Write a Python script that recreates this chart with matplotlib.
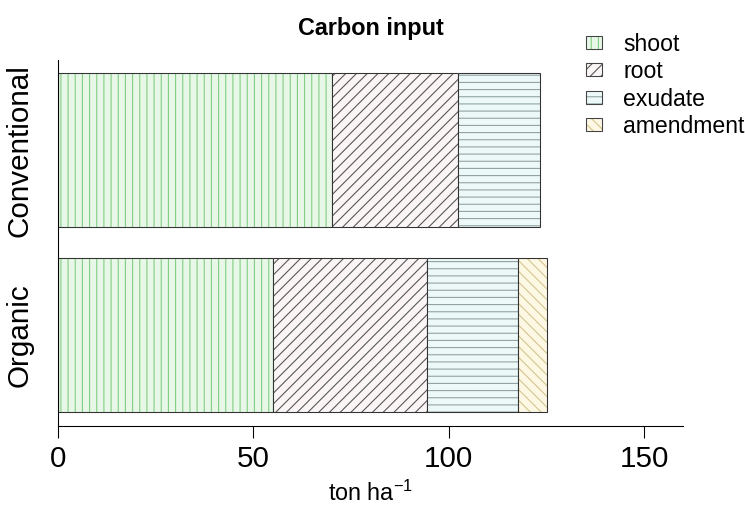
import numpy as np
import matplotlib.pyplot as plt
from matplotlib.patches import Patch
from matplotlib.legend_handler import HandlerTuple

plt.rcParams['font.family'] = ['Liberation Sans', 'DejaVu Sans']
plt.rcParams['mathtext.fontset'] = 'custom'
plt.rcParams['mathtext.rm'] = 'Liberation Sans'
plt.rcParams['mathtext.it'] = 'Liberation Sans:italic'
plt.rcParams['hatch.linewidth'] = 0.6

# Carbon input per system (ton/ha), bottom to top
systems = ['Organic', 'Conventional']
shoot = [55.1, 70.0]
root = [39.3, 32.3]
exudate = [23.3, 21.0]
amendment = [7.4, 0.0]

components = ['shoot', 'root', 'exudate', 'amendment']
fills = ['#e8f8e8', '#fbf5f5', '#edf9f9', '#fdf8e4']
hatch_cols = ['#80cc80', '#555555', '#90a0a0', '#d4c48c']
hatches = ['|||', '////', '---', '\\\\\\\\']
edge = '#333333'

DPI = 129.6
fig = plt.figure(figsize=(745.3 / DPI, 505.3 / DPI), dpi=DPI)
ax = fig.add_axes([58 / 745, 79 / 505, 625 / 745, 366 / 505])

ypos = np.array([0.7, 1.9])
left = np.zeros(2)
handles = []
for name, vals, fc, hc, h in zip(components, [shoot, root, exudate, amendment],
                                 fills, hatch_cols, hatches):
    vals = np.array(vals)
    keep = vals > 0
    ax.barh(ypos[keep], vals[keep], height=1, left=left[keep], color=fc,
            edgecolor=hc, hatch=h, linewidth=0)
    ax.barh(ypos[keep], vals[keep], height=1, left=left[keep], fill=False,
            edgecolor=edge, linewidth=0.6)
    left += vals
    handles.append((Patch(facecolor=fc, edgecolor=hc, hatch=h, linewidth=0),
                    Patch(fill=False, edgecolor='#444444', linewidth=0.6)))

ax.set_xlim(0, 160)
ax.set_ylim(0.112, 2.488)
ax.set_xticks([0, 50, 100, 150])
ax.set_yticks(ypos)
ax.set_yticklabels(systems, rotation=90, va='center')
ax.tick_params(axis='x', length=6.7, width=0.6, pad=3.9, labelsize=16.5)
ax.tick_params(axis='y', length=0, pad=13.5, labelsize=16.5)
for s in ['top', 'right']:
    ax.spines[s].set_visible(False)
for s in ['left', 'bottom']:
    ax.spines[s].set_linewidth(0.6)

ax.set_xlabel('ton ha$^{-1}$', fontsize=13)
ax.xaxis.label.set_va('baseline')
ax.xaxis.set_label_coords(0.5, -(501 - 426) / 366)

ax.set_title('Carbon input', fontsize=13, fontweight='bold', pad=13.9)

fig.legend(handles, components,
           handler_map={tuple: HandlerTuple(ndivide=1, pad=0)},
           loc='upper left', bbox_to_anchor=(586 / 745, 1 - 33 / 505),
           frameon=False, borderpad=0, borderaxespad=0, fontsize=12.8,
           handlelength=0.7, handleheight=0.48, handletextpad=0.9,
           labelspacing=0.19)

fig.savefig('out.png', dpi=DPI)
